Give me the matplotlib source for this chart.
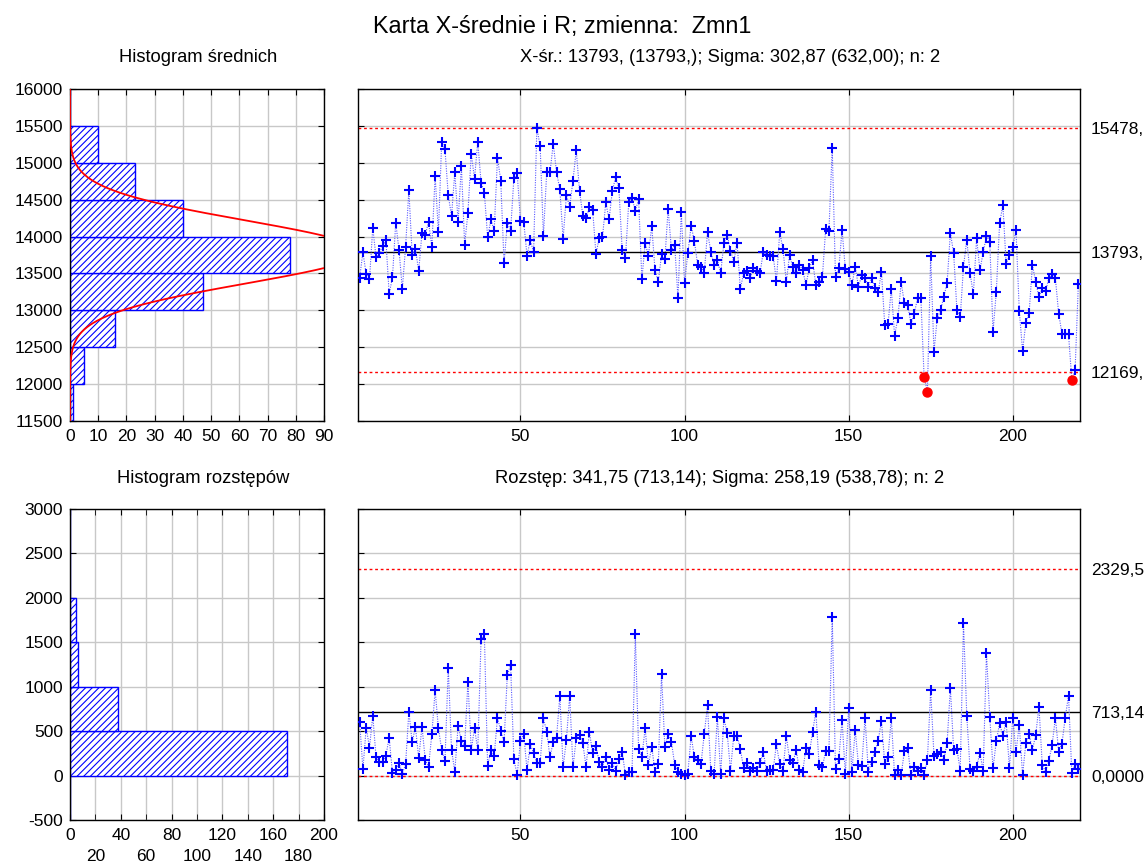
import numpy as np
import matplotlib
matplotlib.use("Agg")
import matplotlib.pyplot as plt

plt.rcParams['font.family'] = ['Liberation Sans', 'DejaVu Sans']
plt.rcParams['hatch.linewidth'] = 0.8
plt.rcParams['axes.unicode_minus'] = False

# ---- data -------------------------------------------------------------
sample = np.arange(1, 221)

xbar = [
    13443, 13787, 13489, 13421, 14121, 13719, 13782, 13868, 13949, 13222,
    13448, 14189, 13818, 13290, 13859, 14631, 13755, 13832, 13534, 14053,
    14026, 14198, 13863, 14826, 14058, 15282, 15182, 14559, 14279, 14871,
    14202, 14957, 13891, 14324, 15124, 14785, 15286, 14731, 14595, 13990,
    14234, 14080, 15070, 14758, 13638, 14189, 14080, 14789, 14862, 14211,
    14200, 13741, 13954, 13787, 15472, 15228, 14008, 14871, 14871, 15259,
    14871, 14640, 13967, 14564, 14401, 14758, 15169, 14622, 14284, 14247,
    14396, 14365, 13764, 13976, 13990, 14464, 14234, 14618, 14803, 14654,
    13814, 13714, 14464, 14527, 14347, 14509, 13421, 13909, 13741, 14148,
    13547, 13389, 13760, 13692, 14374, 13818, 13886, 13163, 14338, 13371,
    13773, 14148, 13940, 13615, 13592, 13502, 14062, 13796, 13615, 13683,
    13502, 13909, 14022, 13809, 13660, 13918, 13290, 13505, 13538, 13434,
    13570, 13538, 13505, 13796, 13751, 13737, 13737, 13394, 14062, 13827,
    13385, 13751, 13583, 13502, 13615, 13547, 13344, 13570, 13683, 13344,
    13389, 13448, 14103, 14076, 15200, 13448, 13570, 14089, 13561, 13516,
    13344, 13592, 13321, 13480, 13443, 13321, 13434, 13308, 13245, 13525,
    12802, 12811, 13290, 12657, 12892, 13380, 13096, 13073, 12816, 12956,
    13163, 13172, 12097, 11899, 13741, 12441, 12892, 13001, 13181, 13367,
    14053, 13773, 13001, 12906, 13592, 13958, 13502, 13218, 13976, 13543,
    13787, 14013, 13931, 12712, 13254, 14180, 14428, 13624, 13746, 13859,
    14085, 12992, 12454, 12829, 12965, 13615, 13385, 13177, 13308, 13258,
    13434, 13493, 13434, 12956, 12685, 12675, 12675, 12061, 12185, 13353,
]

ranges = [
    607, 71, 540, 315, 675, 206, 157, 157, 225, 427,
    26, 64, 146, 22, 127, 720, 375, 551, 195, 551,
    176, 101, 465, 959, 532, 289, 165, 1214, 289, 45,
    562, 390, 337, 1057, 289, 532, 289, 1533, 1593, 109,
    289, 225, 652, 502, 375, 1132, 1244, 187, 5, 390,
    465, 64, 352, 251, 139, 139, 645, 495, 206, 382,
    427, 900, 94, 401, 900, 94, 420, 457, 364, 94,
    495, 251, 337, 150, 101, 206, 60, 139, 56, 187,
    262, 7, 45, 45, 1589, 296, 214, 532, 120, 326,
    45, 127, 1139, 319, 472, 382, 120, 45, 15, 7,
    22, 446, 206, 176, 127, 465, 791, 56, 15, 663,
    15, 645, 476, 56, 450, 450, 300, 82, 139, 56,
    82, 56, 139, 262, 56, 64, 64, 352, 127, 52,
    450, 176, 139, 289, 64, 45, 307, 240, 487, 720,
    120, 94, 277, 277, 1788, 71, 187, 626, 15, 757,
    45, 513, 120, 109, 652, 45, 150, 270, 390, 615,
    135, 214, 645, 5, 64, 7, 277, 307, 5, 101,
    56, 82, 7, 176, 959, 225, 240, 270, 176, 364,
    989, 289, 300, 56, 1713, 675, 71, 56, 101, 251,
    56, 1376, 663, 82, 390, 588, 446, 607, 82, 652,
    270, 570, 7, 364, 465, 289, 457, 776, 120, 45,
    165, 345, 652, 270, 360, 652, 900, 34, 127, 75,
]

# control limits: (upper, centre, lower)
xbar_limits = [15478, 13793, 12169]
range_limits = [2329.5, 713.14, 0.0]

# process parameters from the chart header
group_size = 2
sigma_within = 302.87

mean_bins = np.arange(11500, 16001, 500)
range_bins = np.arange(-500, 3001, 500)

title = "Karta X-średnie i R; zmienna:  Zmn1"
xbar_header = "X-śr.: 13793, (13793,); Sigma: 302,87 (632,00); n: 2"
range_header = "Rozstęp: 341,75 (713,14); Sigma: 258,19 (538,78); n: 2"

# ---- styling helpers ---------------------------------------------------
BLUE = "#0000ff"
GRID = "#c8c8c8"
TICK_FS = 12.5
HEAD_FS = 13.2


def fmt_limit(v):
    digits = len(str(int(abs(v))))
    dec = max(0, 5 - digits)
    s = f"{v:.{dec}f}".replace(".", ",")
    if dec == 0:
        s += ","
    return s


W, H = 1147, 867
fig = plt.figure(figsize=(W / 100, H / 100), dpi=100)


def px_axes(left, top, right, bottom):
    return fig.add_axes([left / W, 1 - bottom / H, (right - left) / W, (bottom - top) / H])


def style_axes(ax):
    ax.set_axisbelow(True)
    ax.grid(True, color=GRID, lw=1)
    for sp in ax.spines.values():
        sp.set_color("black")
        sp.set_linewidth(1.0)
    ax.tick_params(direction="in", length=4, labelsize=TICK_FS, color="black",
                   top=True, right=True)


def histogram(ax, values, bins, xmax, xticks):
    counts, edges = np.histogram(values, bins=bins)
    ax.barh(edges[:-1], counts, height=np.diff(edges), align="edge",
            facecolor="white", edgecolor=BLUE, hatch="/////", lw=1.0, zorder=2)
    ax.set_xlim(0, xmax)
    ax.set_ylim(bins[0], bins[-1])
    ax.set_yticks(bins)
    ax.set_xticks(xticks)
    style_axes(ax)
    ax.tick_params(axis="y", pad=5)
    ax.tick_params(axis="x", pad=6)
    return counts, edges


def control_chart(ax, values, limits, ylim, yticks):
    values = np.asarray(values, dtype=float)
    ucl, cl, lcl = limits
    ax.plot(sample, values, color="#5a5aff", lw=0.8, ls=(0, (1, 1.2)), zorder=3)
    inside = (values <= ucl) & (values >= lcl)
    ax.plot(sample[inside], values[inside], ls="none", marker="+", ms=7,
            mew=1.5, color=BLUE, zorder=4)
    ax.plot(sample[~inside], values[~inside], ls="none", marker="o", ms=6.5,
            color="#ff0000", mec="#ff0000", zorder=4)
    ax.axhline(ucl, color="#ff0000", lw=1.0, ls=(0, (2, 2)), zorder=2.5)
    ax.axhline(lcl, color="#ff0000", lw=1.0, ls=(0, (2, 2)), zorder=2.5)
    ax.axhline(cl, color="black", lw=1.0, zorder=2.5)
    ax.set_xlim(0.5, 220.5)
    ax.set_ylim(*ylim)
    ax.set_xticks([50, 100, 150, 200])
    ax.set_yticks(yticks)
    style_axes(ax)
    ax.tick_params(axis="y", labelleft=False, left=False)
    ax.tick_params(axis="x", pad=6)
    ax2 = ax.twinx()
    ax2.set_ylim(*ylim)
    ax2.set_yticks(limits)
    ax2.set_yticklabels([fmt_limit(v) for v in limits])
    ax2.tick_params(direction="in", length=0, labelsize=TICK_FS, pad=8)
    for sp in ax2.spines.values():
        sp.set_visible(False)


# ---- top row: means ----------------------------------------------------
ax_hm = px_axes(70, 89, 324, 421)
histogram(ax_hm, xbar, mean_bins, 90, np.arange(0, 91, 10))
xb = np.asarray(xbar, dtype=float)
mu = xb.mean()
sd = sigma_within * np.sqrt(group_size)
yy = np.linspace(mean_bins[0], mean_bins[-1], 600)
curve = len(xb) * 500 * np.exp(-0.5 * ((yy - mu) / sd) ** 2) / (sd * np.sqrt(2 * np.pi))
ax_hm.plot(curve, yy, color="#ff0000", lw=1.3, zorder=3)

ax_x = px_axes(358, 89, 1080, 421)
control_chart(ax_x, xbar, xbar_limits, (11500, 16000), mean_bins)

# ---- bottom row: ranges ------------------------------------------------
ax_hr = px_axes(70, 509, 324, 820)
histogram(ax_hr, ranges, range_bins, 200, np.arange(0, 201, 40))
ax_hr.set_xticks(np.arange(20, 181, 40), minor=True)
ax_hr.set_xticklabels([str(v) for v in np.arange(20, 181, 40)], minor=True)
ax_hr.tick_params(axis="x", which="minor", direction="in", length=4,
                  labelsize=TICK_FS, pad=21, top=True)
ax_hr.grid(True, which="minor", axis="x", color=GRID, lw=1)

ax_r = px_axes(358, 509, 1080, 820)
control_chart(ax_r, ranges, range_limits, (-500, 3000), range_bins)

# ---- titles ------------------------------------------------------------
fig.text(562 / W, 1 - 27 / H, title, ha="center", va="center", fontsize=16.8)
fig.text(198 / W, 1 - 58 / H, "Histogram średnich", ha="center", va="center", fontsize=HEAD_FS)
fig.text(730 / W, 1 - 58 / H, xbar_header, ha="center", va="center", fontsize=HEAD_FS)
fig.text(203 / W, 1 - 478 / H, "Histogram rozstępów", ha="center", va="center", fontsize=HEAD_FS)
fig.text(720 / W, 1 - 478 / H, range_header, ha="center", va="center", fontsize=HEAD_FS)

fig.savefig("out.png", dpi=100, facecolor="white")
